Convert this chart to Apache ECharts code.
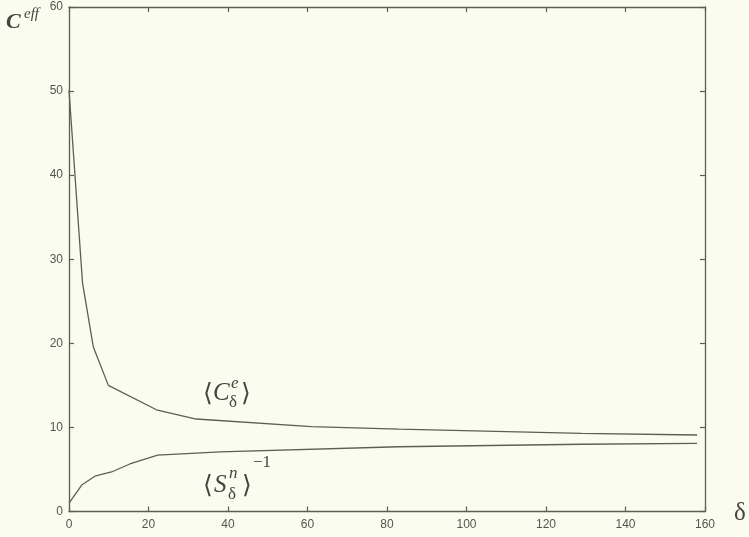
<!DOCTYPE html>
<html>
<head>
<meta charset="utf-8">
<title>Effective C versus delta</title>
<script src="https://cdn.jsdelivr.net/npm/echarts@6/dist/echarts.min.js"></script>
<style>
  html, body { margin: 0; padding: 0; background: #fafcef; }
  #chart { width: 749px; height: 537px; }
</style>
</head>
<body>
<div id="chart"></div>
<script>
// Upper curve: <C^e_delta>
const ceDelta = [0, 3.4, 6.1, 9.9, 22, 32, 61, 83, 129, 158];
const ceValue = [50.1, 27.2, 19.6, 15.0, 12.1, 11.0, 10.1, 9.8, 9.3, 9.1];

// Lower curve: <S^n_delta>^-1
const snDelta = [0, 3.2, 6.5, 10.7, 15.3, 22.3, 38, 83, 129, 158];
const snValue = [1.0, 3.15, 4.2, 4.7, 5.65, 6.7, 7.1, 7.7, 8.0, 8.1];

// Axis ticks
const xTicks = [0, 20, 40, 60, 80, 100, 120, 140, 160];
const yTicks = [0, 10, 20, 30, 40, 50, 60];

const ink = '#5e5e55';
const labelColor = '#55554f';
const textInk = '#45453f';
const serif = '"Liberation Serif", "DejaVu Serif", serif';

const pairs = (xs, ys) => xs.map((x, i) => [x, ys[i]]);

const chart = echarts.init(document.getElementById('chart'), null, { renderer: 'canvas' });

// shared style for the four sides of the frame: plain line, short inward ticks
const frameAxis = () => ({
  axisLine: { show: true, onZero: false, lineStyle: { color: ink, width: 1.3 } },
  axisTick: { show: true, inside: true, length: 5, lineStyle: { color: ink, width: 1.2 } },
  splitLine: { show: false }
});

const tickFont = { color: labelColor, fontSize: 12, fontFamily: '"Liberation Sans", Arial, sans-serif' };

chart.setOption({
  backgroundColor: '#fafcef',
  animation: false,
  grid: { left: 69, right: 44, top: 7, bottom: 25.5, containLabel: false },
  xAxis: [
    Object.assign(frameAxis(), {
      type: 'value', position: 'bottom', min: xTicks[0], max: xTicks[xTicks.length - 1], interval: 20,
      axisLabel: Object.assign({ margin: 7 }, tickFont)
    }),
    Object.assign(frameAxis(), {
      type: 'value', position: 'top', min: xTicks[0], max: xTicks[xTicks.length - 1], interval: 20,
      axisLabel: { show: false }
    })
  ],
  yAxis: [
    Object.assign(frameAxis(), {
      type: 'value', position: 'left', min: yTicks[0], max: yTicks[yTicks.length - 1], interval: 10,
      axisLabel: Object.assign({ margin: 6 }, tickFont)
    }),
    Object.assign(frameAxis(), {
      type: 'value', position: 'right', min: yTicks[0], max: yTicks[yTicks.length - 1], interval: 10,
      axisLabel: { show: false }
    })
  ],
  series: [
    {
      name: 'Ce', type: 'line', data: pairs(ceDelta, ceValue), showSymbol: false, symbol: 'none',
      lineStyle: { color: ink, width: 1.3 }, silent: true
    },
    {
      name: 'Sn', type: 'line', data: pairs(snDelta, snValue), showSymbol: false, symbol: 'none',
      lineStyle: { color: ink, width: 1.3 }, silent: true
    }
  ],
  graphic: [
    // y-axis title C^eff
    { type: 'text', left: 6, top: 11, style: { text: 'C', font: 'italic bold 22px ' + serif, fill: textInk } },
    { type: 'text', left: 24, top: 7, style: { text: 'eff', font: 'italic 15px ' + serif, fill: textInk } },
    // x-axis title delta
    { type: 'text', left: 734, top: 501, style: { text: 'δ', font: '25px ' + serif, fill: textInk } },
    // <C^e_delta>
    { type: 'text', left: 203, top: 382, style: { text: '⟨', font: '25px ' + serif, fill: textInk } },
    { type: 'text', left: 213, top: 381, style: { text: 'C', font: 'italic 25px ' + serif, fill: textInk } },
    { type: 'text', left: 231, top: 375, style: { text: 'e', font: 'italic 17px ' + serif, fill: textInk } },
    { type: 'text', left: 229, top: 394, style: { text: 'δ', font: '17px ' + serif, fill: textInk } },
    { type: 'text', left: 241, top: 382, style: { text: '⟩', font: '25px ' + serif, fill: textInk } },
    // <S^n_delta>^-1
    { type: 'text', left: 203, top: 474, style: { text: '⟨', font: '25px ' + serif, fill: textInk } },
    { type: 'text', left: 214, top: 473, style: { text: 'S', font: 'italic 25px ' + serif, fill: textInk } },
    { type: 'text', left: 229, top: 465, style: { text: 'n', font: 'italic 17px ' + serif, fill: textInk } },
    { type: 'text', left: 228, top: 486, style: { text: 'δ', font: '17px ' + serif, fill: textInk } },
    { type: 'text', left: 242, top: 474, style: { text: '⟩', font: '25px ' + serif, fill: textInk } },
    { type: 'text', left: 253, top: 454, style: { text: '−1', font: '17px ' + serif, fill: textInk } }
  ]
});
</script>
</body>
</html>
